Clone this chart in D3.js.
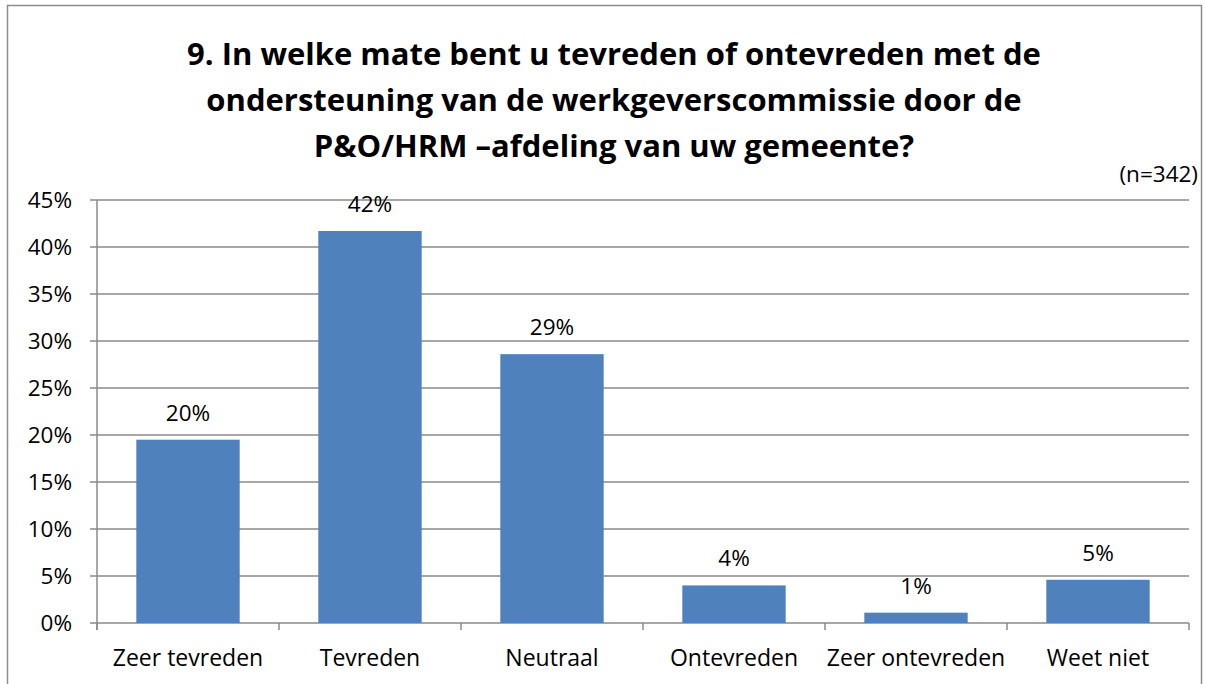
<!DOCTYPE html>
<html>
<head>
<meta charset="utf-8">
<script src="https://cdn.jsdelivr.net/npm/d3@7"></script>
<style>
  body { margin: 0; background: #fff; }
  svg { font-family: "Open Sans", Lato, sans-serif; }
</style>
</head>
<body>
<svg width="1205" height="684"></svg>
<script>
// answer categories and shares (%)
var categories = ["Zeer tevreden", "Tevreden", "Neutraal", "Ontevreden", "Zeer ontevreden", "Weet niet"];
var values = [19.5, 41.7, 28.6, 4.0, 1.1, 4.6];
var labels = ["20%", "42%", "29%", "4%", "1%", "5%"];
var yTicks = [0, 5, 10, 15, 20, 25, 30, 35, 40, 45];
var titleLines = [
  "9. In welke mate bent u tevreden of ontevreden met de",
  "ondersteuning van de werkgeverscommissie door de",
  "P&O/HRM \u2013afdeling van uw gemeente?"
];

var width = 1205, height = 684;
var margin = {left: 97, right: 16, top: 200, bottom: 61};
var fs = 22.5;

var svg = d3.select("svg");

// outer frame
svg.append("rect")
  .attr("x", 7.5).attr("y", 5.5)
  .attr("width", 1194).attr("height", 690)
  .attr("fill", "none")
  .attr("stroke", "#8c8c8c")
  .attr("stroke-width", 1.5);

var x = d3.scaleBand().domain(categories)
  .range([margin.left, width - margin.right])
  .paddingInner(0.432).paddingOuter(0.216);
var y = d3.scaleLinear().domain([0, 45]).range([height - margin.bottom, margin.top]);

// gridlines
svg.append("g").selectAll("line")
  .data(yTicks)
  .enter().append("line")
  .attr("x1", margin.left - 7)
  .attr("x2", width - margin.right)
  .attr("y1", function(d) { return y(d); })
  .attr("y2", function(d) { return y(d); })
  .attr("stroke", "#8a8a8a")
  .attr("stroke-width", 1.5);

// y tick labels
svg.append("g").selectAll("text")
  .data(yTicks)
  .enter().append("text")
  .attr("x", margin.left - 25)
  .attr("y", function(d) { return y(d) + 8; })
  .attr("text-anchor", "end")
  .attr("font-size", fs)
  .attr("fill", "#000")
  .text(function(d) { return d + "%"; });

// bars
svg.append("g").selectAll("rect")
  .data(values)
  .enter().append("rect")
  .attr("x", function(d, i) { return x(categories[i]); })
  .attr("y", function(d) { return y(d); })
  .attr("width", x.bandwidth())
  .attr("height", function(d) { return y(0) - y(d); })
  .attr("fill", "#4f81bd");

// value labels
svg.append("g").selectAll("text")
  .data(values)
  .enter().append("text")
  .attr("x", function(d, i) { return x(categories[i]) + x.bandwidth() / 2; })
  .attr("y", function(d) { return y(d) - 19; })
  .attr("text-anchor", "middle")
  .attr("font-size", fs)
  .text(function(d, i) { return labels[i]; });

// axes lines
var step = x.step();
svg.append("line")
  .attr("x1", margin.left).attr("x2", margin.left)
  .attr("y1", y(45)).attr("y2", y(0) + 7)
  .attr("stroke", "#8a8a8a").attr("stroke-width", 1.5);
var tickXs = d3.range(categories.length + 1).map(function(i) { return margin.left + i * step; });
svg.append("g").selectAll("line")
  .data(tickXs)
  .enter().append("line")
  .attr("x1", function(d) { return d; })
  .attr("x2", function(d) { return d; })
  .attr("y1", y(0)).attr("y2", y(0) + 7)
  .attr("stroke", "#8a8a8a").attr("stroke-width", 1.5);

// category labels
svg.append("g").selectAll("text")
  .data(categories)
  .enter().append("text")
  .attr("x", function(d) { return x(d) + x.bandwidth() / 2; })
  .attr("y", 666)
  .attr("text-anchor", "middle")
  .attr("font-size", fs + 0.5)
  .text(function(d) { return d; });

// title
svg.append("g").selectAll("text")
  .data(titleLines)
  .enter().append("text")
  .attr("x", 614)
  .attr("y", function(d, i) { return 65 + i * 46; })
  .attr("text-anchor", "middle")
  .attr("font-size", 31)
  .attr("font-weight", "bold")
  .text(function(d) { return d; });

svg.append("text")
  .attr("x", 1198)
  .attr("y", 182)
  .attr("text-anchor", "end")
  .attr("font-size", fs)
  .text("(n=342)");
</script>
</body>
</html>
